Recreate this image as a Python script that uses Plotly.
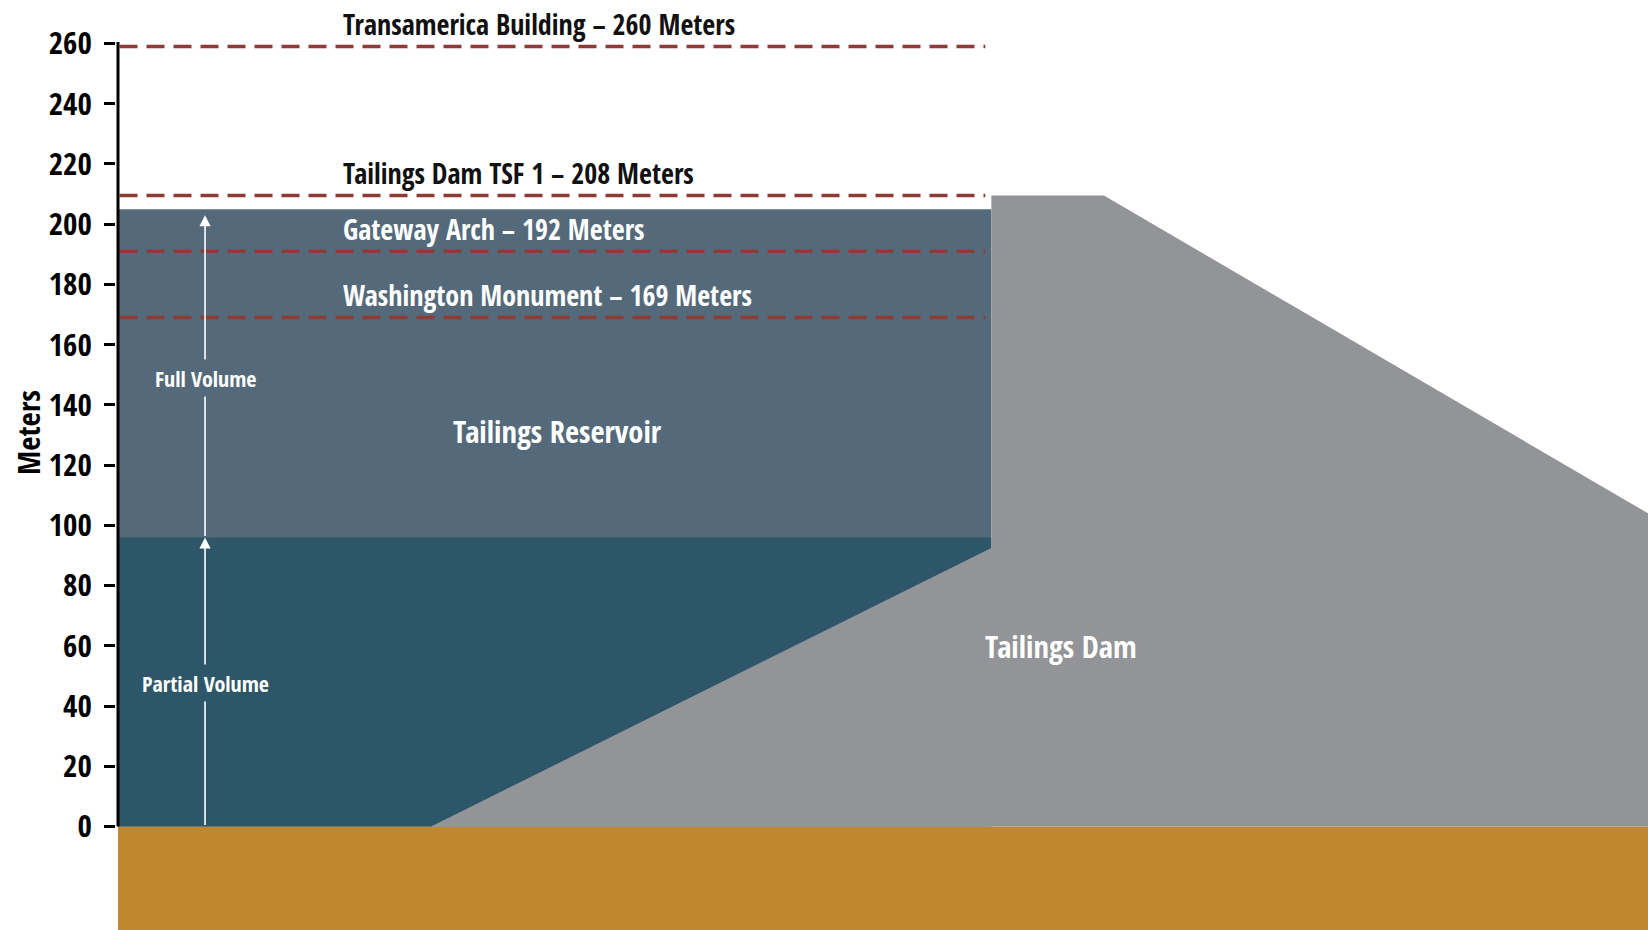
import plotly.graph_objects as go

# ---- data (meters) ----
y_ticks = [0, 20, 40, 60, 80, 100, 120, 140, 160, 180, 200, 220, 240, 260]

ref_labels = ["Transamerica Building – 260 Meters", "Tailings Dam TSF 1 – 208 Meters",
              "Gateway Arch – 192 Meters", "Washington Monument – 169 Meters"]
ref_heights = [259, 209.5, 191, 169]
ref_label_colors = ["#111111", "#111111", "#ffffff", "#ffffff"]
ref_line_end = 288

# dam cross-section (horizontal distance m, elevation m)
dam_x = [104, 290, 290, 327.4, 508.05, 508.05]
dam_y = [0, 92.5, 209.5, 209.5, 104, 0]

# reservoir levels
full_level = 205
partial_level = 96
reservoir_right = 290
partial_x = [0, 104, 290, 290, 0]
partial_y = [0, 0, 92.5, partial_level, partial_level]

arrow_x = 28.9
full_arrow_top = 203
ground_depth = -34.37
plot_right = 508.05
y_top = 274.45

C_LIGHT = "#546a7a"
C_DARK = "#2d5669"
C_GRAY = "#929497"
C_GROUND = "#bf8830"
C_DASH = "#8e3b35"

FONT = "Open Sans Condensed, Roboto Condensed, DejaVu Sans Condensed, sans-serif"

fig = go.Figure()

# ground
fig.add_trace(go.Scatter(x=[0, plot_right, plot_right, 0, 0],
                         y=[ground_depth, ground_depth, 0, 0, ground_depth],
                         fill="toself", fillcolor=C_GROUND, mode="lines",
                         line=dict(width=0, color=C_GROUND), hoverinfo="skip"))
# full volume (drawn down to the floor; partial volume and dam drawn on top)
fig.add_trace(go.Scatter(x=[0, reservoir_right, reservoir_right, 0, 0],
                         y=[0, 0, full_level, full_level, 0],
                         fill="toself", fillcolor=C_LIGHT, mode="lines",
                         line=dict(width=0, color=C_LIGHT), hoverinfo="skip"))
# partial volume
fig.add_trace(go.Scatter(x=partial_x + [partial_x[0]], y=partial_y + [partial_y[0]],
                         fill="toself", fillcolor=C_DARK,
                         mode="lines", line=dict(width=0, color=C_DARK), hoverinfo="skip"))
# dam
fig.add_trace(go.Scatter(x=dam_x + [dam_x[0]], y=dam_y + [dam_y[0]], fill="toself",
                         fillcolor=C_GRAY, mode="lines", line=dict(width=0, color=C_GRAY),
                         hoverinfo="skip"))

# reference dashed lines
for h in ref_heights:
    fig.add_trace(go.Scatter(x=[0.5, ref_line_end], y=[h, h], mode="lines",
                             line=dict(color=C_DASH, width=3.5, dash="18px,9px"),
                             hoverinfo="skip"))

# y axis line
fig.add_trace(go.Scatter(x=[0, 0], y=[0, 260.5], mode="lines",
                         line=dict(color="black", width=3), hoverinfo="skip"))

annotations = []
for lab, h, col in zip(ref_labels, ref_heights, ref_label_colors):
    annotations.append(dict(x=74.2, y=h + 7.5, text=lab, showarrow=False, xanchor="left",
                            yanchor="middle", font=dict(family=FONT, size=28, color=col, weight=700)))

# arrows
annotations.append(dict(x=arrow_x, y=partial_level, ax=arrow_x, ay=0, axref="x", ayref="y",
                        text="", showarrow=True, arrowhead=2, arrowsize=1.4, arrowwidth=1.6,
                        arrowcolor="white"))
annotations.append(dict(x=arrow_x, y=full_arrow_top, ax=arrow_x, ay=partial_level, axref="x",
                        ayref="y", text="", showarrow=True, arrowhead=2, arrowsize=1.4,
                        arrowwidth=1.6, arrowcolor="white"))
annotations.append(dict(x=arrow_x, y=148.8, text="Full Volume", showarrow=False,
                        bgcolor=C_LIGHT, borderpad=3,
                        font=dict(family=FONT, size=22, color="white", weight=700)))
annotations.append(dict(x=arrow_x, y=47.6, text="Partial Volume", showarrow=False,
                        bgcolor=C_DARK, borderpad=3,
                        font=dict(family=FONT, size=22, color="white", weight=700)))
annotations.append(dict(x=146, y=131.3, text="Tailings Reservoir", showarrow=False,
                        font=dict(family=FONT, size=30.5, color="white", weight=700)))
annotations.append(dict(x=313, y=59.8, text="Tailings Dam", showarrow=False,
                        font=dict(family=FONT, size=30.5, color="white", weight=700)))
annotations.append(dict(x=(28 - 116) / 1532, y=1 - 433 / 930, xref="paper", yref="paper",
                        xanchor="center", yanchor="middle", text="Meters", showarrow=False,
                        textangle=-90, font=dict(family=FONT, size=31, color="black", weight=700)))

fig.update_layout(
    width=1648, height=930,
    margin=dict(l=116, r=0, t=0, b=0, pad=0),
    plot_bgcolor="white", paper_bgcolor="white",
    showlegend=False,
    annotations=annotations,
    xaxis=dict(range=[-2 / 3.0115, plot_right], visible=False, fixedrange=True),
    yaxis=dict(range=[ground_depth, y_top], tickvals=y_ticks, ticks="outside", ticklen=11,
               tickwidth=3, tickcolor="black", showline=False, showgrid=False, zeroline=False,
               ticklabelstandoff=6,
               tickfont=dict(family=FONT, size=31, color="black", weight=700), fixedrange=True),
)

fig.write_html("out.html", config={"displayModeBar": False},
               post_script="document.body.style.margin='0';document.body.style.overflow='hidden';")
